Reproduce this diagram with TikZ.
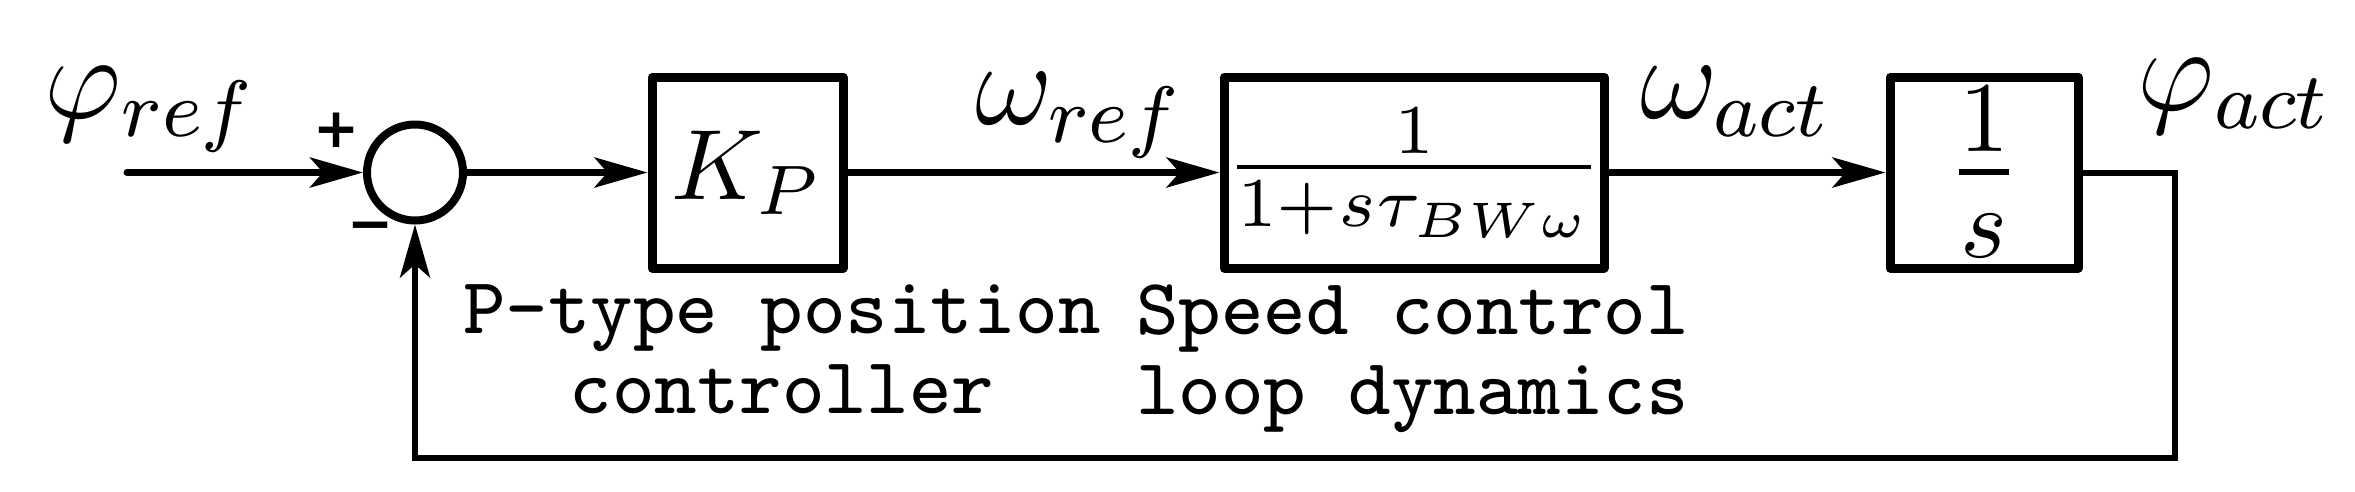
\documentclass[tikz,border=0pt]{standalone}
\usepackage{amsmath}
\usepackage{fontspec}
\newfontfamily\signfont{DejaVu Sans}
\usetikzlibrary{arrows.meta}
\begin{document}
\begin{tikzpicture}[x=0.1pt,y=-0.1pt,
  blk/.style={draw, line width=0.9pt, line join=round, inner sep=0pt, minimum height=19.1pt},
  tip/.style={-{Stealth[length=5.3pt,width=3pt,inset=1.3pt]}},
  sig/.style={line width=0.7pt, tip},
  fb/.style={line width=0.6pt},
  lbl/.style={font=\large, inner sep=0pt, anchor=base west},
  captxt/.style={font=\fontsize{8}{8}\selectfont\ttfamily, align=center, inner sep=0pt, anchor=north},
  sgn/.style={font=\signfont\bfseries\fontsize{5.5}{5.5}\selectfont, inner sep=0pt}]
\useasboundingbox (0,0) rectangle (2355,491);
\node[circle, draw, line width=0.8pt, minimum size=9.6pt, inner sep=0pt] (sum) at (415,172.5) {};
\node[blk, minimum width=19.1pt] (kp) at (747.5,172.5) {$K_P$};
\node[blk, minimum width=38pt] (spd) at (1414,172.5) {$\frac{1}{1+s\tau_{BW\omega}}$};
\node[blk, minimum width=18.8pt, font=\fontsize{14.4}{17}\selectfont] (int) at (1984,172.5) {$\frac{1}{s}$};
\coordinate (in) at (127,172.5);
\coordinate (corner) at (2174.5,458);
\draw[sig, line cap=round] (in) -- (sum);
\draw[sig] (sum) -- (kp);
\draw[sig] (kp) -- (spd);
\draw[sig] (spd) -- (int);
\draw[fb, tip] (int.east) -| (corner) -| (sum.south);
\node[sgn] (plus) at (337,130) {+};
\node[sgn] (minus) at (371,232) {−};
\node[lbl] (phiref) at (43,118) {$\varphi_{ref}$};
\node[lbl] (wref) at (973,124) {$\omega_{ref}$};
\node[lbl] (wact) at (1638,118) {$\omega_{act}$};
\node[lbl] (phiact) at (2135,110) {$\varphi_{act}$};
\node[captxt] (c1) at (782,283) {P-type position\\controller};
\node[captxt] (c2) at (1412.5,283) {Speed control\\loop dynamics};
\end{tikzpicture}
\end{document}
